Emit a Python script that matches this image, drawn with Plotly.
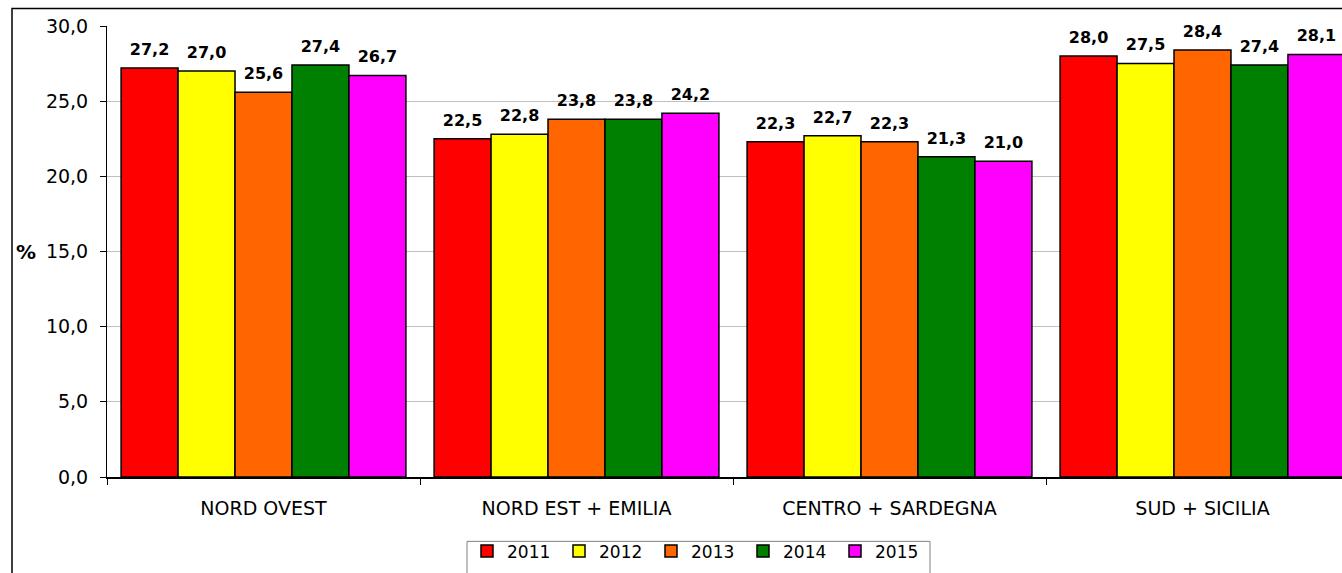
import plotly.graph_objects as go

# Ripartizioni territoriali e valori percentuali per anno
regioni = ["NORD OVEST", "NORD EST + EMILIA", "CENTRO + SARDEGNA", "SUD + SICILIA"]
anni = ["2011", "2012", "2013", "2014", "2015"]
v2011 = [27.2, 22.5, 22.3, 28.0]
v2012 = [27.0, 22.8, 22.7, 27.5]
v2013 = [25.6, 23.8, 22.3, 28.4]
v2014 = [27.4, 23.8, 21.3, 27.4]
v2015 = [26.7, 24.2, 21.0, 28.1]
serie = [v2011, v2012, v2013, v2014, v2015]
colori = ["#FF0000", "#FFFF00", "#FF6600", "#008000", "#FF00FF"]
tick_y = [0, 5, 10, 15, 20, 25, 30]

W, H = 1342, 573
L, R, T, B = 107, 0, 25.5, 95.5
pw, ph = W - L - R, H - T - B
GAP = 0.09


def px_x(p):
    return (p - L) / pw


def px_y(p):
    return (H - B - p) / ph


fig = go.Figure()
for anno, vals, col in zip(anni, serie, colori):
    fig.add_trace(go.Bar(
        x=regioni, y=vals, name=anno, offsetgroup=anno,
        marker=dict(color=col, line=dict(color="#000000", width=1.5)),
        hoverinfo="skip",
    ))

# etichette dei valori sopra le barre, raggruppate come le barre
for anno, vals in zip(anni, serie):
    fig.add_trace(go.Scatter(
        x=regioni, y=vals, offsetgroup=anno, mode="markers+text",
        text=[f"{v:.1f}".replace(".", ",") for v in vals],
        textposition="top center",
        marker=dict(size=13, opacity=0),
        textfont=dict(family="DejaVu Sans", size=16, color="#000000", weight="bold"),
        showlegend=False, cliponaxis=False, hoverinfo="skip",
    ))

# l'ultima categoria prosegue oltre il bordo destro della pagina
cat_px = 313.0
x_max = -0.5 + pw / cat_px

fig.update_layout(
    width=W, height=H,
    margin=dict(l=L, r=R, t=T, b=B, pad=0, autoexpand=False),
    paper_bgcolor="#FFFFFF", plot_bgcolor="#FFFFFF",
    barmode="group", bargap=GAP, bargroupgap=0,
    scattermode="group", scattergap=GAP,
    separators=",.",
    font=dict(family="DejaVu Sans", color="#000000"),
    showlegend=True,
    legend=dict(
        orientation="h", xanchor="left", yanchor="top",
        x=px_x(467), y=px_y(534),
        bgcolor="rgba(0,0,0,0)", borderwidth=0,
        font=dict(family="DejaVu Sans", size=17, color="#000000"),
        entrywidth=47, entrywidthmode="pixels",
        traceorder="normal",
    ),
    xaxis=dict(
        range=[-0.5, x_max], showgrid=False,
        showline=True, linecolor="#000000", linewidth=2,
        ticks="outside", tickson="boundaries", ticklen=6, tickcolor="#000000",
        tickfont=dict(family="DejaVu Sans", size=19, color="#000000"),
        ticklabelstandoff=13,
    ),
    yaxis=dict(
        range=[0, 30], tickvals=tick_y, tickformat=".1f",
        showgrid=True, gridcolor="#C0C0C0", gridwidth=1,
        showline=True, linecolor="#000000", linewidth=1,
        ticks="outside", ticklen=6, tickcolor="#000000",
        tickfont=dict(family="DejaVu Sans", size=19, color="#000000"),
        ticklabelstandoff=8, zeroline=False,
    ),
    annotations=[dict(
        text="<b>%</b>", xref="paper", yref="paper",
        x=px_x(14), y=0.5, xanchor="left", yanchor="middle",
        showarrow=False, font=dict(family="DejaVu Sans", size=20, color="#000000"),
    )],
    shapes=[
        # cornice esterna del grafico
        dict(type="rect", xref="paper", yref="paper",
             x0=px_x(12), x1=1.2, y0=-0.5, y1=px_y(8),
             line=dict(color="#000000", width=1.5), fillcolor="rgba(0,0,0,0)", layer="above"),
        # riquadro della legenda
        dict(type="rect", xref="paper", yref="paper",
             x0=px_x(467), x1=px_x(930), y0=px_y(590), y1=px_y(542),
             line=dict(color="#808080", width=1), fillcolor="rgba(0,0,0,0)", layer="above"),
    ],
)

fig.write_html("out.html")
